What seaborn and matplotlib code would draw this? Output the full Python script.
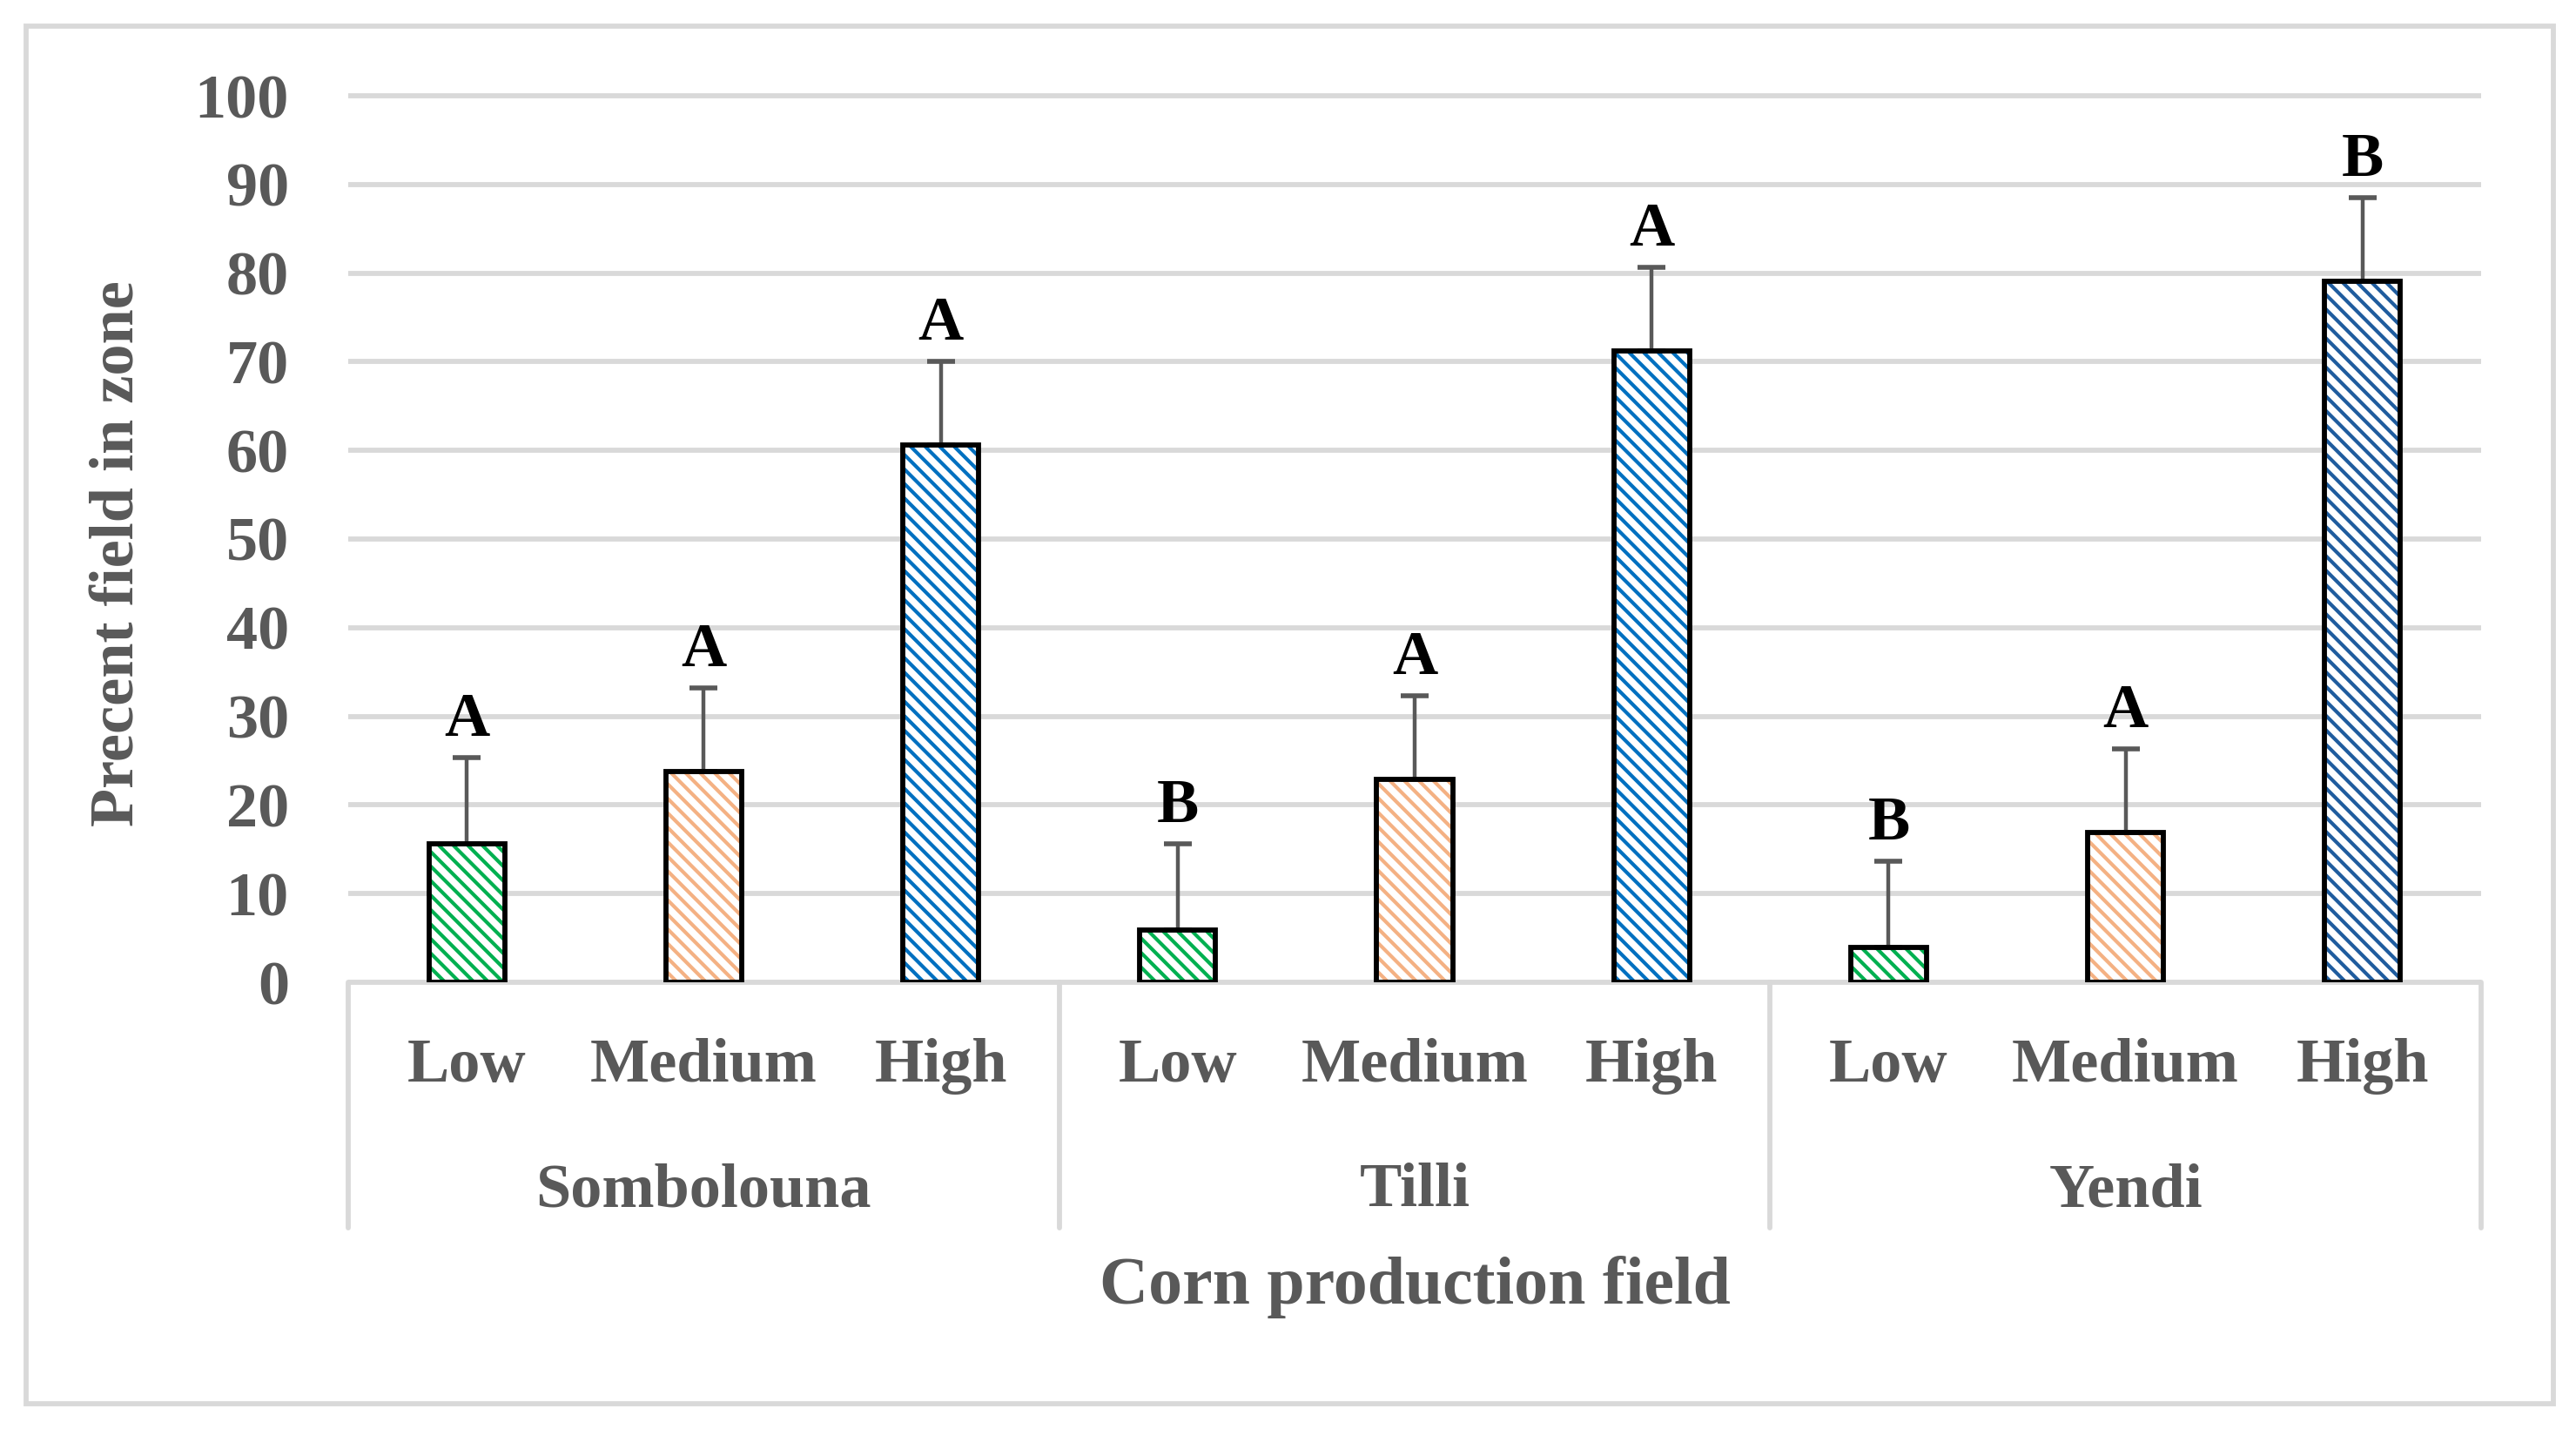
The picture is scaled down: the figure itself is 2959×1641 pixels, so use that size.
import matplotlib
matplotlib.use('Agg')
import matplotlib.pyplot as plt
import matplotlib.transforms as mtransforms
from matplotlib.patches import Rectangle
import seaborn as sns
import pandas as pd

fields = ['Sombolouna', 'Tilli', 'Yendi']
levels = ['Low', 'Medium', 'High']
values = [15.6, 23.8, 60.6, 5.9, 22.9, 71.2, 3.9, 16.9, 79.1]
errors = [9.7, 9.4, 9.4, 9.7, 9.4, 9.4, 9.8, 9.4, 9.4]
letters = ['A', 'A', 'A', 'B', 'A', 'A', 'B', 'A', 'B']
bar_colors = ['#00B050', '#F4B183', '#0070C0',
              '#00B050', '#F4B183', '#0070C0',
              '#00B050', '#F4B183', '#1F5C9E']
y_ticks = list(range(0, 101, 10))

GREY = '#D9D9D9'
TEXT = '#595959'

sns.set_theme(style='white')
plt.rcParams['font.family'] = ['Liberation Serif', 'DejaVu Serif']
plt.rcParams['hatch.linewidth'] = 1.5

slots = [f'{f}|{l}' for f in fields for l in levels]
df = pd.DataFrame({'slot': slots, 'value': values})

fig = plt.figure(figsize=(14.795, 8.205), dpi=200)
ax = fig.add_axes([400 / 2959, 1 - 1128 / 1641, 2450 / 2959, 1018 / 1641])

sns.barplot(data=df, x='slot', y='value', hue='slot', order=slots, hue_order=slots,
            palette=bar_colors, width=0.32, errorbar=None, legend=False, ax=ax)

bars = sorted(ax.patches, key=lambda p: p.get_x())
xs = []
for p, c in zip(bars, bar_colors):
    p.set_facecolor('white')
    p.set_edgecolor(c)
    p.set_linewidth(0)
    p.set_hatch('\\\\\\\\')
    p.set_zorder(2)
    ax.add_patch(Rectangle(p.get_xy(), p.get_width(), p.get_height(), fill=False,
                           edgecolor='black', linewidth=2.1, zorder=3))
    xs.append(p.get_x() + p.get_width() / 2)

# upper error bars only
ax.errorbar(xs, values, yerr=[[0] * len(errors), errors], fmt='none', ecolor=TEXT,
            elinewidth=1.6, capsize=5.8, capthick=2, zorder=2.5)

for x, v, e, l in zip(xs, values, errors, letters):
    ax.annotate(l, (x, v + e), xytext=(0, 9), textcoords='offset points', ha='center',
                va='baseline', fontsize=26, fontweight='bold', color='black')

ax.set_xlim(-0.5, len(slots) - 0.5)
ax.set_ylim(0, 100)
ax.set_yticks(y_ticks)
ax.hlines(y_ticks, -0.5, len(slots) - 0.5, colors=GREY, linewidth=2.1, zorder=0.5, clip_on=False)
for s in ax.spines.values():
    s.set_visible(False)

ax.set_xticks(range(len(slots)))
ax.set_xticklabels(levels * len(fields))
ax.tick_params(axis='x', length=0, pad=23, labelsize=26, labelcolor=TEXT)
ax.tick_params(axis='y', length=0, pad=24.5, labelsize=26, labelcolor=TEXT)
for t in ax.get_xticklabels() + ax.get_yticklabels():
    t.set_fontweight('bold')

trans = mtransforms.blended_transform_factory(ax.transData, ax.transAxes)
for xb in [-0.5, 2.5, 5.5, 8.5]:
    ax.plot([xb, xb], [0, -0.277], transform=trans, clip_on=False, color=GREY, lw=2.1)
for i, f in enumerate(fields):
    ax.text(3 * i + 1, -0.2525, f, transform=trans, ha='center', va='baseline',
            fontsize=26, fontweight='bold', color=TEXT)

ax.set_xlabel('Corn production field', fontsize=28, fontweight='bold', color=TEXT)
ax.xaxis.label.set_va('baseline')
ax.xaxis.set_label_coords(0.5, -0.3625)
ax.set_ylabel('Precent field in zone', fontsize=26, fontweight='bold', color=TEXT)
ax.yaxis.label.set_va('center')
ax.yaxis.set_label_coords(-0.1078, 0.484)

fig.add_artist(Rectangle((30 / 2959, 1 - 1612 / 1641), 2903 / 2959, 1582 / 1641,
                         transform=fig.transFigure, fill=False, edgecolor=GREY, linewidth=2.1))

fig.savefig('out.png', dpi=200)
